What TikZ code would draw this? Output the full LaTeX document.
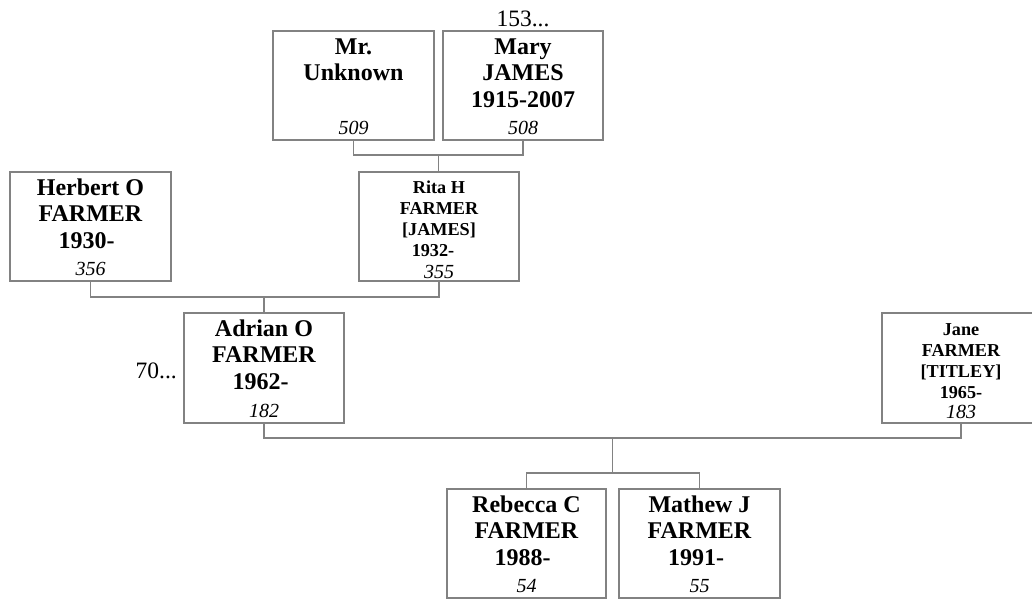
\documentclass[tikz,border=0pt]{standalone}
\usepackage{fontspec}
\setmainfont{Liberation Serif}
\definecolor{boxgray}{RGB}{130,130,130}
\newcommand{\nstrut}{\rule{0pt}{19pt}}
\newcommand{\sstrut}{\rule{0pt}{14pt}}

\begin{document}
\begin{tikzpicture}[x=1pt, y=-1pt,
    pbox/.style={draw=boxgray, line width=1.2pt, inner sep=0pt, outer sep=0pt, minimum width=160pt, minimum height=109pt},
    pname/.style={anchor=north, inner sep=0pt, align=center, font=\bfseries\fontsize{24}{26.7}\selectfont},
    psmall/.style={pname, font=\bfseries\fontsize{18.2}{21.2}\selectfont},
    pnum/.style={anchor=base, inner sep=0pt, font=\itshape\fontsize{20}{24}\selectfont},
    link/.style={draw=boxgray, line width=1.2pt},
    more/.style={inner sep=0pt, font=\fontsize{23.5}{28}\selectfont}]
    \useasboundingbox (0,0) rectangle (1032,599);

    % 1. grandparents (top row)
    \node[pbox, minimum width=161pt] (unk) at (353.5,85.5) {};
    \node[pname] (unk-t) at ([yshift=-4pt]unk.north) {\nstrut Mr.\\Unknown};
    \node[pnum] (unk-n) at ([yshift=5pt]unk.south) {509};

    \node[pbox] (mary) at (523,85.5) {};
    \node[pname] (mary-t) at ([yshift=-4pt]mary.north) {\nstrut Mary\\JAMES\\1915-2007};
    \node[pnum] (mary-n) at ([yshift=6pt]mary.south) {508};
    \node[more, anchor=base] (mary-more) at ([yshift=4pt]mary.north) {153...};

    % 2. parents of Adrian
    \node[pbox, minimum width=161pt] (herb) at (90.5,226.5) {};
    \node[pname] (herb-t) at ([yshift=-4pt]herb.north) {\nstrut Herbert O\\FARMER\\1930-\kern8pt};
    \node[pnum] (herb-n) at ([yshift=6pt]herb.south) {356};

    \node[pbox] (rita) at (439,226.5) {};
    \node[psmall] (rita-t) at ([yshift=-7pt]rita.north) {\sstrut Rita H\\FARMER\\{}[JAMES]\\1932-\kern12pt};
    \node[pnum] (rita-n) at ([yshift=3pt]rita.south) {355};

    % 3. couple
    \node[pbox, minimum height=110pt] (adr) at (264,368) {};
    \node[pname] (adr-t) at ([yshift=-4pt]adr.north) {\nstrut Adrian O\\FARMER\\1962-\kern7pt};
    \node[pnum] (adr-n) at ([yshift=6pt]adr.south) {182};
    \node[more, anchor=base east] (adr-more) at (177,378) {70...};

    \node[pbox, minimum width=158pt, minimum height=110pt] (jane) at (961,368) {};
    \node[psmall] (jane-t) at ([yshift=-8pt]jane.north) {\sstrut Jane\\FARMER\\{}[TITLEY]\\1965-};
    \node[pnum] (jane-n) at ([yshift=5pt]jane.south) {183};

    % 4. children
    \node[pbox, minimum width=159pt] (reb) at (526.5,543.5) {};
    \node[pname] (reb-t) at ([yshift=-4pt]reb.north) {\nstrut Rebecca C\\FARMER\\1988-\kern8pt};
    \node[pnum] (reb-n) at ([yshift=6pt]reb.south) {54};

    \node[pbox, minimum width=161pt] (mat) at (699.5,543.5) {};
    \node[pname] (mat-t) at ([yshift=-4pt]mat.north) {\nstrut Mathew J\\FARMER\\1991-\kern7pt};
    \node[pnum] (mat-n) at ([yshift=6pt]mat.south) {55};

    % 5. connectors
    \coordinate (j1) at (438.5,155);
    \coordinate (j2) at (264,297);
    \coordinate (j3) at (612.5,438);
    \coordinate (j4) at (612.5,473);
    \draw[link] (unk.south) |- (j1) -| (mary.south);
    \draw[link] (j1) -- (j1 |- rita.north);
    \draw[link] (herb.south) |- (j2) -| (rita.south);
    \draw[link] (j2) -- (j2 |- adr.north);
    \draw[link] (adr.south) |- (j3) -| (jane.south);
    \draw[link] (j3) -- (j4);
    \draw[link] (reb.north) |- (j4) -| (mat.north);
\end{tikzpicture}
\end{document}
